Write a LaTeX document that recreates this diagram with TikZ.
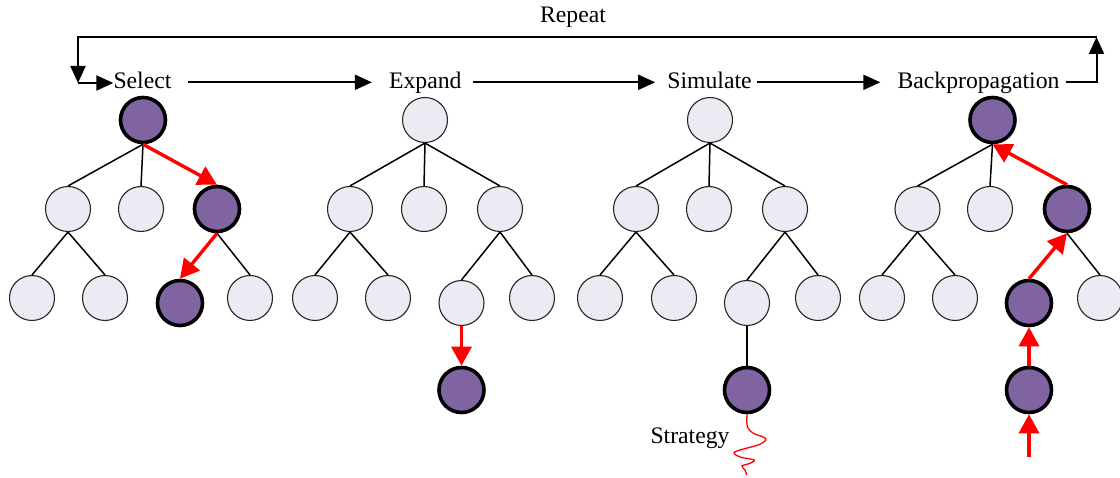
\documentclass[tikz,border=0pt]{standalone}
\usepackage{fontspec}
\setmainfont{Liberation Serif}
\usetikzlibrary{arrows.meta}
\definecolor{nodefill}{HTML}{ECEAF2}
\definecolor{visited}{HTML}{8064A2}

\begin{document}
\begin{tikzpicture}[x=1pt,y=-1pt,
  tn/.style={circle, draw=black!85, line width=1.1pt, fill=nodefill,
             minimum size=45pt, inner sep=0pt},
  hot/.style={tn, draw=black, line width=3.6pt, fill=visited},
  edge/.style={line width=1.5pt},
  hotarrow/.style={red, line width=3.4pt, -{Triangle[length=19pt,width=20pt]}},
  flow/.style={line width=2pt, -{Triangle[length=17pt,width=15pt]}},
  lbl/.style={font=\fontsize{23.7}{28}\selectfont, inner sep=0pt, anchor=base}]

\useasboundingbox (0,0) rectangle (1120,478);

% phase labels
\node[lbl] (sel) at (142.5,88.3) {Select};
\node[lbl] (exp) at (425.3,88.3) {Expand};
\node[lbl] (sim) at (709.5,88.3) {Simulate};
\node[lbl] (bp)  at (978.5,88.3) {Backpropagation};
\node[lbl] (rep) at (573,22.7) {Repeat};

% flow between phases
\draw[flow] ([xshift=16pt,yshift=6pt]sel.base east) -- ([xshift=-17pt,yshift=6pt]exp.base west);
\draw[flow] ([xshift=11pt,yshift=6pt]exp.base east) -- ([xshift=-12pt,yshift=6pt]sim.base west);
\draw[flow] ([xshift=5pt,yshift=6pt]sim.base east) -- ([xshift=-17pt,yshift=6pt]bp.base west);

% repeat loop
\coordinate (cR) at (1096.5,37);
\coordinate (cL) at (78,37);
\coordinate (cB) at (78,83);
\draw[flow] ([xshift=6pt,yshift=6pt]bp.base east) -| (cR);
\draw[flow] (cR) -- (cL) -- (cB);
\draw[flow] (cB) -- ([yshift=5.3pt]sel.base west);

% ---- Select tree
\node[hot] (a0) at (143,120) {};
\node[tn]  (a1) at (68,209) {};
\node[tn]  (a2) at (141,209) {};
\node[hot] (a3) at (217,209) {};
\node[tn]  (a11) at (32,298) {};
\node[tn]  (a12) at (105,298) {};
\node[hot] (a31) at (180,303) {};
\node[tn]  (a32) at (250,298) {};
\draw[edge] (a0.south) -- (a1.north);
\draw[edge] (a0.south) -- (a2.north);
\draw[edge] (a1.south) -- (a11.north);
\draw[edge] (a1.south) -- (a12.north);
\draw[edge] (a3.south) -- (a32.north);
\draw[hotarrow] (a0.south) -- (a3.north);
\draw[hotarrow] (a3.south) -- (a31.north);

% ---- Expand tree
\node[tn]  (b0) at (425,120) {};
\node[tn]  (b1) at (350,209) {};
\node[tn]  (b2) at (424,209) {};
\node[tn]  (b3) at (500,209) {};
\node[tn]  (b11) at (315,298) {};
\node[tn]  (b12) at (388,298) {};
\node[tn]  (b31) at (461.5,303) {};
\node[tn]  (b32) at (532,298) {};
\node[hot] (b4) at (461.5,390) {};
\foreach \p/\c in {b0/b1,b0/b2,b0/b3,b1/b11,b1/b12,b3/b31,b3/b32}
  \draw[edge] (\p.south) -- (\c.north);
\draw[hotarrow] (b31.south) -- (b4.north);

% ---- Simulate tree
\node[tn]  (c0) at (710,120) {};
\node[tn]  (c1) at (636,209) {};
\node[tn]  (c2) at (709,209) {};
\node[tn]  (c3) at (785,209) {};
\node[tn]  (c11) at (600,298) {};
\node[tn]  (c12) at (674,298) {};
\node[tn]  (c31) at (747,303) {};
\node[tn]  (c32) at (818,298) {};
\node[hot] (c4) at (747,390) {};
\foreach \p/\c in {c0/c1,c0/c2,c0/c3,c1/c11,c1/c12,c3/c31,c3/c32,c31/c4}
  \draw[edge] (\p.south) -- (\c.north);
\node[lbl] (strat) at (690,443.3) {Strategy};
\draw[red, line width=1.3pt] plot[smooth, tension=0.55] coordinates {
  (c4.south) (747.3,426.7) (753.3,433.3) (764,437.3) (765.5,440.5) (758,445)
  (740,450) (734,453) (740,457) (754,460) (750,463.3) (742,466) (745,470) (746.7,475)};

% ---- Backpropagation tree
\node[hot] (d0) at (992.5,120) {};
\node[tn]  (d1) at (917.5,209) {};
\node[tn]  (d2) at (990,209) {};
\node[hot] (d3) at (1067,209) {};
\node[tn]  (d11) at (882,298) {};
\node[tn]  (d12) at (955,298) {};
\node[hot] (d31) at (1029,303) {};
\node[tn]  (d32) at (1100,298) {};
\node[hot] (d4) at (1029,390) {};
\coordinate (dstart) at (1029,457);
\foreach \p/\c in {d0/d1,d0/d2,d1/d11,d1/d12,d3/d32}
  \draw[edge] (\p.south) -- (\c.north);
\draw[hotarrow] (dstart) -- (d4.south);
\draw[hotarrow] (d4.north) -- (d31.south);
\draw[hotarrow] (d31.north) -- (d3.south);
\draw[hotarrow] (d3.north) -- (d0.south);
\end{tikzpicture}
\end{document}
